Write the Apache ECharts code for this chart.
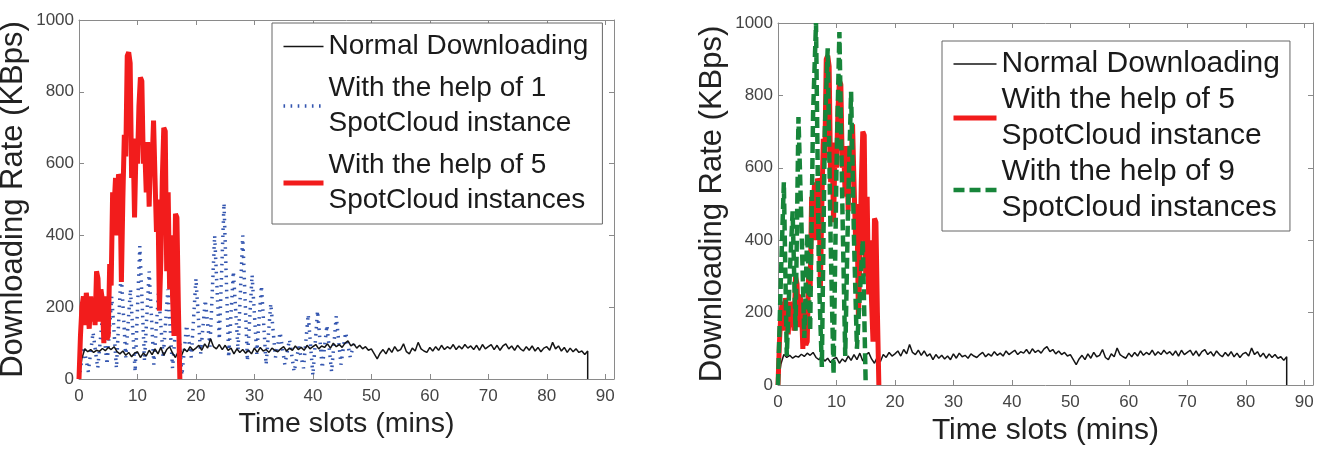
<!DOCTYPE html>
<html>
<head>
<meta charset="utf-8">
<script src="https://cdn.jsdelivr.net/npm/echarts@6/dist/echarts.min.js"></script>
<style>
  html, body { margin: 0; padding: 0; background: #fff; }
  #chart { width: 1324px; height: 456px; }
</style>
</head>
<body>
<div id="chart"></div>
<script>
// x ticks / y ticks
const xTicks = [0, 10, 20, 30, 40, 50, 60, 70, 80, 90];
const yTicks = [0, 200, 400, 600, 800, 1000];

// Normal downloading, one value every 0.5 min from t = 0 to 87 (same run in both panels)
const normalStep = 0.5;
const normalRate = [
  0, 58, 84, 76, 82, 74, 80, 77, 85, 79,
  88, 82, 90, 76, 70, 78, 66, 74, 62, 72,
  76, 60, 72, 64, 80, 68, 84, 70, 88, 66,
  82, 90, 72, 60, 78, 64, 84, 76, 90, 80,
  86, 94, 80, 98, 86, 112, 90, 84, 96, 82,
  94, 80, 86, 70, 84, 74, 82, 72, 80, 70,
  86, 74, 88, 78, 82, 74, 86, 80, 76, 84,
  90, 78, 86, 80, 92, 82, 88, 80, 94, 84,
  90, 96, 84, 92, 88, 98, 86, 100, 90, 96,
  88, 100, 106, 92, 98, 86, 94, 84, 90, 80,
  84, 70, 56, 72, 82, 70, 86, 74, 90, 78,
  82, 98, 76, 70, 86, 78, 102, 84, 78, 74,
  88, 78, 90, 80, 94, 82, 90, 84, 96, 82,
  92, 84, 96, 86, 92, 82, 94, 80, 96, 84,
  90, 96, 82, 94, 80, 92, 98, 84, 92, 80,
  94, 84, 78, 90, 80, 92, 78, 88, 76, 86,
  90, 80, 102, 84, 92, 78, 88, 74, 86, 76,
  84, 74, 78, 68, 78
];
const normalEnd = [87, 0];

// 1 SpotCloud instance, one value every 0.8 min
const oneStep = 0.8;
const oneRate = [
  0, 90, 20, 130, 30, 170, 40, 230, 30, 300,
  60, 250, 20, 370, 50, 300, 40, 240, 60, 250,
  30, 200, 10, 150, 60, 280, 70, 220, 90, 400,
  110, 490, 60, 300, 80, 400, 50, 290, 70, 260,
  40, 210, 60, 130, 40, 110, 20, 90, 30, 180,
  10, 190, 30, 150, 20, 175, 40, 130, 60, 110
];

// 5 SpotCloud instances, one value every 0.25 min
const fiveStep = 0.25;
const fiveRate = [
  0, 120, 200, 230, 150, 240, 200, 140, 230, 160,
  210, 150, 300, 280, 160, 250, 220, 100, 230, 110,
  120, 320, 260, 520, 480, 560, 400, 570, 560, 270,
  500, 680, 620, 900, 910, 880, 560, 670, 450, 640,
  600, 760, 840, 830, 600, 640, 520, 660, 480, 640,
  600, 720, 560, 410, 500, 190, 330, 560, 700, 690,
  300, 520, 250, 400, 230, 120, 460, 450, 200, 0
];

// 9 SpotCloud instances, one value every 0.5 min
const nineStep = 0.5;
const nineRate = [
  0, 300, 560, 80, 300, 480, 150, 740, 450, 130,
  420, 150, 750, 1000, 300, 50, 700, 930, 400, 30,
  600, 975, 500, 80, 500, 810, 400, 100, 250, 400,
  0
];

const NAME_NORMAL = 'Normal Downloading';
const NAME_ONE = 'With the help of 1\nSpotCloud instance';
const NAME_FIVE_L = 'With the help of 5\nSpotCloud instances';
const NAME_FIVE_R = 'With the help of 5\nSpotCloud instance';
const NAME_NINE = 'With the help of 9\nSpotCloud instances';

function toPairs(values, step) {
  return values.map((v, i) => [i * step, v]);
}

const FONT = 'Liberation Sans, Arial, Helvetica, sans-serif';
const AXIS_GRAY = '#8a8a8a';

function xAxisFor(gridIndex, top, titleSize) {
  return {
    type: 'value',
    gridIndex: gridIndex,
    position: top ? 'top' : 'bottom',
    min: 0,
    max: 91.5,
    interval: 10,
    splitLine: { show: false },
    axisLine: { show: true, onZero: false, lineStyle: { color: AXIS_GRAY, width: 1 } },
    axisTick: { show: true, inside: true, length: 5, lineStyle: { color: AXIS_GRAY } },
    axisLabel: {
      show: !top,
      margin: 9,
      fontSize: 17,
      color: '#444',
      fontFamily: FONT,
      formatter: function (v) { return xTicks.indexOf(v) >= 0 ? String(v) : ''; }
    },
    name: top ? '' : 'Time slots (mins)',
    nameLocation: 'middle',
    nameGap: 30,
    nameTextStyle: { fontSize: titleSize, color: '#222', fontFamily: FONT }
  };
}

function yAxisFor(gridIndex, right, titleSize) {
  return {
    type: 'value',
    gridIndex: gridIndex,
    position: right ? 'right' : 'left',
    min: 0,
    max: 1000,
    interval: 200,
    splitLine: { show: false },
    axisLine: { show: true, onZero: false, lineStyle: { color: AXIS_GRAY, width: 1 } },
    axisTick: { show: true, inside: true, length: 5, lineStyle: { color: AXIS_GRAY } },
    axisLabel: {
      show: !right,
      margin: 5,
      fontSize: 17,
      color: '#444',
      fontFamily: FONT,
      formatter: function (v) { return yTicks.indexOf(v) >= 0 ? String(v) : ''; }
    },
    name: right ? '' : 'Downloading Rate (KBps)',
    nameLocation: 'middle',
    nameRotate: 90,
    nameGap: 50,
    nameTextStyle: { fontSize: titleSize, color: '#222', fontFamily: FONT }
  };
}

function lineSeries(name, data, xi, yi, style, z) {
  return {
    name: name,
    type: 'line',
    xAxisIndex: xi,
    yAxisIndex: yi,
    data: data,
    symbol: 'none',
    showSymbol: false,
    z: z,
    itemStyle: { color: style.color },
    lineStyle: style
  };
}

const blackStyle = { color: '#151515', width: 1.5 };
const blueStyle = { color: '#3456b0', width: 3.5, type: [1.6, 5.5] };
const redStyle = { color: '#f21c1c', width: 5 };
const greenStyle = { color: '#17853a', width: 4.5, type: [11, 5] };

const normalData = toPairs(normalRate, normalStep).concat([normalEnd]);

const legendBase = {
  orient: 'vertical',
  itemHeight: 14,
  itemStyle: { opacity: 0 },
  lineStyle: { width: 'inherit', type: 'inherit', color: 'inherit' },
  backgroundColor: '#fff',
  borderColor: '#666',
  borderWidth: 1,
  borderRadius: 0
};

const chart = echarts.init(document.getElementById('chart'));
const option = {
  animation: false,
  backgroundColor: '#fff',
  textStyle: { fontFamily: FONT },
  grid: [
    { left: 79, top: 20, width: 535, height: 359, outerBoundsMode: 'none', show: false },
    { left: 778, top: 23, width: 535, height: 362, outerBoundsMode: 'none', show: false }
  ],
  xAxis: [xAxisFor(0, false, 28.5), xAxisFor(0, true, 28.5), xAxisFor(1, false, 30), xAxisFor(1, true, 30)],
  yAxis: [yAxisFor(0, false, 31), yAxisFor(0, true, 31), yAxisFor(1, false, 31), yAxisFor(1, true, 31)],
  legend: [
    Object.assign({}, legendBase, {
      data: [NAME_NORMAL, NAME_ONE, NAME_FIVE_L],
      left: 272,
      top: 23,
      padding: [6, 14, 6, 9],
      itemGap: 7,
      itemWidth: 40,
      textStyle: { fontSize: 28, lineHeight: 35, color: '#1a1a1a', fontFamily: FONT }
    }),
    Object.assign({}, legendBase, {
      data: [NAME_NORMAL, NAME_FIVE_R, NAME_NINE],
      left: 942,
      top: 41,
      padding: [5, 10, 5, 9],
      itemGap: 0,
      itemWidth: 43,
      textStyle: { fontSize: 30, lineHeight: 36, color: '#1a1a1a', fontFamily: FONT }
    })
  ],
  series: [
    lineSeries(NAME_ONE, toPairs(oneRate, oneStep), 0, 0, blueStyle, 2),
    lineSeries(NAME_NORMAL, normalData, 0, 0, blackStyle, 3),
    lineSeries(NAME_FIVE_L, toPairs(fiveRate, fiveStep), 0, 0, redStyle, 4),

    lineSeries(NAME_NORMAL, normalData, 2, 2, blackStyle, 3),
    lineSeries(NAME_FIVE_R, toPairs(fiveRate, fiveStep), 2, 2, redStyle, 4),
    lineSeries(NAME_NINE, toPairs(nineRate, nineStep), 2, 2, greenStyle, 5)
  ]
};
chart.setOption(option);
</script>
</body>
</html>
